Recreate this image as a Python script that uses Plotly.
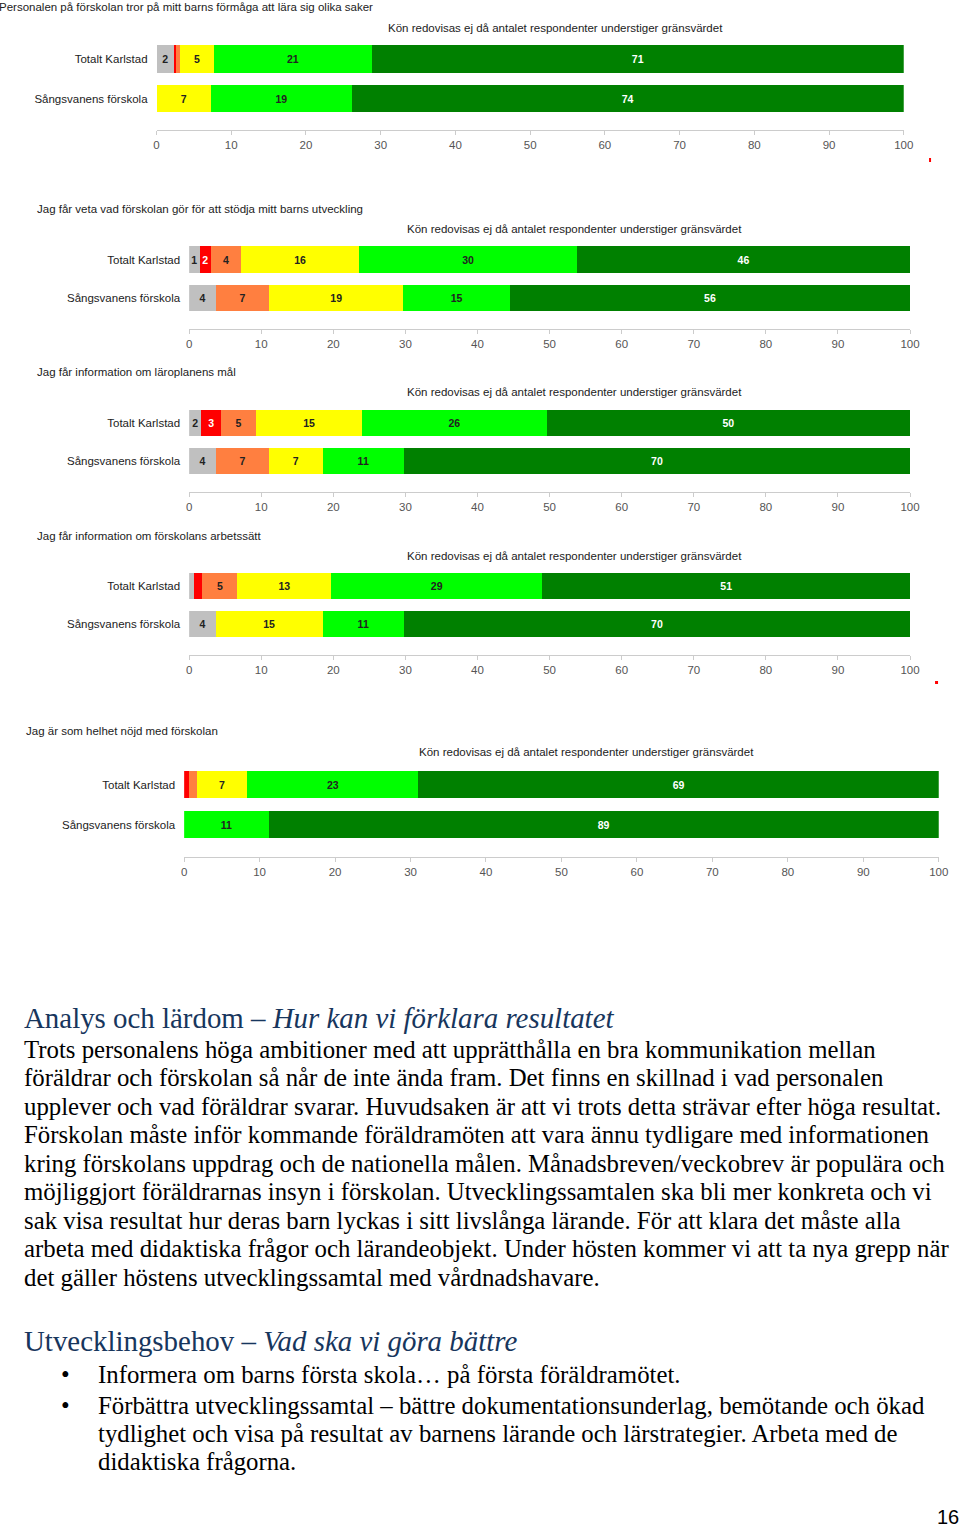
import plotly.graph_objects as go

W, H = 960, 1527

# ---------------- data ----------------
categories = ["Totalt Karlstad", "Sångsvanens förskola"]
series_names = ["Vet ej", "Instämmer inte alls", "Instämmer i liten grad",
                "Instämmer delvis", "Instämmer i stor grad", "Instämmer helt"]
series_colors = ["#c0c0c0", "#ff0000", "#ff7f40", "#ffff00", "#00ff00", "#008000"]
label_colors = ["#222222", "#ffffff", "#222222", "#222222", "#222222", "#ffffff"]

chart_titles = [
    "Personalen på förskolan tror på mitt barns förmåga att lära sig olika saker",
    "Jag får veta vad förskolan gör för att stödja mitt barns utveckling",
    "Jag får information om läroplanens mål",
    "Jag får information om förskolans arbetssätt",
    "Jag är som helhet nöjd med förskolan",
]
subtitle = "Kön redovisas ej då antalet respondenter understiger gränsvärdet"

# shares (%) per response: [vet ej, inte alls, liten grad, delvis, stor grad, helt]
q1_totalt = [2.3, 0.3, 0.5, 4.6, 21.1, 71.2]
q1_sangs = [0, 0, 0, 7.3, 18.8, 73.9]
q2_totalt = [1.45, 1.55, 4.2, 16.4, 30.2, 46.2]
q2_sangs = [3.7, 0, 7.4, 18.6, 14.8, 55.5]
q3_totalt = [1.7, 2.7, 4.9, 14.7, 25.6, 50.4]
q3_sangs = [3.7, 0, 7.4, 7.4, 11.3, 70.2]
q4_totalt = [0.7, 1.15, 4.85, 13.0, 29.3, 51.0]
q4_sangs = [3.7, 0, 0, 14.8, 11.3, 70.2]
q5_totalt = [0, 0.65, 1.0, 6.7, 22.7, 68.95]
q5_sangs = [0, 0, 0, 0, 11.2, 88.8]

chart_data = [(q1_totalt, q1_sangs), (q2_totalt, q2_sangs), (q3_totalt, q3_sangs),
              (q4_totalt, q4_sangs), (q5_totalt, q5_sangs)]

x_ticks = [0, 10, 20, 30, 40, 50, 60, 70, 80, 90, 100]

# ---------------- layout geometry (pixels) ----------------
# x0, x1 (pixel of 0 and 100), centre Totalt, centre Sångsvanens, axis line,
# title x, title y, subtitle centre x, subtitle y
geo = [
    (156.7, 903.7, 59.0, 98.5, 130.0, 0, 7, 556, 28),
    (189.3, 910.0, 259.5, 298.0, 329.0, 38, 209, 575, 229),
    (189.3, 910.0, 423.0, 461.0, 492.0, 38, 372, 575, 392),
    (189.3, 910.0, 586.0, 624.0, 655.0, 38, 536, 575, 556),
    (184.3, 938.7, 784.5, 824.5, 856.7, 27, 731, 587, 752),
]

PAD = 2  # annotation inner padding compensation
# horizontal calibration of the rendered page (observed offset / scale)
X_A, X_B = 3.2, 0.9862

def px(x):
    return ((x - X_A) / X_B) / W

def py(y):
    return 1 - y / H

fig = go.Figure()
annotations = []
layout_axes = {}
CHART_FONT = "Liberation Sans, Arial, sans-serif"
CF = 11.5

for i, ((tot, sang), g) in enumerate(zip(chart_data, geo)):
    x0, x1, cT, cS, axis_y, tx, ty, sx, sy = g
    n = i + 1
    xa = "x" if n == 1 else f"x{n}"
    ya = "y" if n == 1 else f"y{n}"
    step = cS - cT
    top_px = cT - step / 2
    y_top_val = 1 + 0.5
    y_bot_val = 0 - (axis_y - cS) / step
    for s in range(6):
        vals = [sang[s], tot[s]]
        texts = [str(int(v + 0.5)) if v >= 1.4 else "" for v in vals]
        fig.add_trace(go.Bar(
            x=vals, y=[categories[1], categories[0]], orientation="h",
            marker=dict(color=series_colors[s], line=dict(width=0)),
            width=0.69, name=series_names[s], showlegend=False,
            text=texts, textposition="inside", insidetextanchor="middle",
            textangle=0, constraintext="none",
            textfont=dict(size=10.5, color=label_colors[s], family=CHART_FONT, weight="bold"),
            xaxis=xa, yaxis=ya, hoverinfo="x+name",
        ))
    layout_axes["xaxis" if n == 1 else f"xaxis{n}"] = dict(
        domain=[max(px(x0), 0), min(px(x1), 1)], anchor=ya, range=[0, 100],
        tickvals=x_ticks, ticktext=[str(t) for t in x_ticks],
        showline=True, linecolor="#cccccc", linewidth=1,
        ticks="outside", ticklen=4, tickcolor="#cccccc",
        showgrid=False, zeroline=False,
        tickfont=dict(size=CF, color="#555555", family=CHART_FONT),
        fixedrange=True,
    )
    layout_axes["yaxis" if n == 1 else f"yaxis{n}"] = dict(
        domain=[py(axis_y), py(top_px)], anchor=xa,
        type="category", categoryorder="array",
        categoryarray=[categories[1], categories[0]],
        range=[y_bot_val, y_top_val],
        showline=False, showgrid=False, zeroline=False, ticks="",
        ticklabelstandoff=8,
        tickfont=dict(size=CF, color="#222222", family=CHART_FONT),
        fixedrange=True,
    )
    annotations.append(dict(
        text=chart_titles[i], x=px(tx - PAD - 1), y=py(ty), xref="paper", yref="paper",
        xanchor="left", yanchor="middle", showarrow=False,
        font=dict(size=CF, color="#222222", family=CHART_FONT)))
    annotations.append(dict(
        text=subtitle, x=px(sx), y=py(sy), xref="paper", yref="paper",
        xanchor="center", yanchor="middle", showarrow=False,
        font=dict(size=CF, color="#222222", family=CHART_FONT)))

# ---------------- text section ----------------
SERIF = "Liberation Serif, Times New Roman, serif"
HEAD = "#17365d"
HEAD_SIZE = 28.9
BODY_SIZE = 24.8
annotations.append(dict(
    text="Analys och lärdom – <i>Hur kan vi förklara resultatet</i>",
    x=px(24 - PAD), y=py(1018), xref="paper", yref="paper", xanchor="left", yanchor="middle",
    showarrow=False, font=dict(size=HEAD_SIZE, color=HEAD, family=SERIF)))

body_lines = [
    "Trots personalens höga ambitioner med att upprätthålla en bra kommunikation mellan",
    "föräldrar och förskolan så når de inte ända fram. Det finns en skillnad i vad personalen",
    "upplever och vad föräldrar svarar. Huvudsaken är att vi trots detta strävar efter höga resultat.",
    "Förskolan måste inför kommande föräldramöten att vara ännu tydligare med informationen",
    "kring förskolans uppdrag och de nationella målen. Månadsbreven/veckobrev är populära och",
    "möjliggjort föräldrarnas insyn i förskolan. Utvecklingssamtalen ska bli mer konkreta och vi",
    "sak visa resultat hur deras barn lyckas i sitt livslånga lärande. För att klara det måste alla",
    "arbeta med didaktiska frågor och lärandeobjekt. Under hösten kommer vi att ta nya grepp när",
    "det gäller höstens utvecklingssamtal med vårdnadshavare.",
]
body_y = [1049, 1077.5, 1106, 1134.5, 1163, 1191.5, 1220, 1248.5, 1277]
for line, yy in zip(body_lines, body_y):
    annotations.append(dict(
        text=line, x=px(24 - PAD), y=py(yy), xref="paper", yref="paper",
        xanchor="left", yanchor="middle", showarrow=False,
        font=dict(size=BODY_SIZE, color="#000000", family=SERIF)))

annotations.append(dict(
    text="Utvecklingsbehov – <i>Vad ska vi göra bättre</i>",
    x=px(24 - PAD), y=py(1341), xref="paper", yref="paper", xanchor="left", yanchor="middle",
    showarrow=False, font=dict(size=HEAD_SIZE, color=HEAD, family=SERIF)))

bullet_lines = [
    ("Informera om barns första skola… på första föräldramötet.", 1374, True),
    ("Förbättra utvecklingssamtal – bättre dokumentationsunderlag, bemötande och ökad", 1405, True),
    ("tydlighet och visa på resultat av barnens lärande och lärstrategier. Arbeta med de", 1433, False),
    ("didaktiska frågorna.", 1461, False),
]
for line, yy, has_bullet in bullet_lines:
    if has_bullet:
        annotations.append(dict(
            text="•", x=px(66), y=py(yy), xref="paper", yref="paper",
            xanchor="center", yanchor="middle", showarrow=False,
            font=dict(size=BODY_SIZE, color="#000000", family=SERIF)))
    annotations.append(dict(
        text=line, x=px(98 - PAD), y=py(yy), xref="paper", yref="paper",
        xanchor="left", yanchor="middle", showarrow=False,
        font=dict(size=BODY_SIZE, color="#000000", family=SERIF)))

annotations.append(dict(
    text="16", x=px(948), y=py(1517), xref="paper", yref="paper",
    xanchor="center", yanchor="middle", showarrow=False,
    font=dict(size=20, color="#000000", family="Liberation Sans, Arial, sans-serif")))

shapes = [
    dict(type="rect", xref="paper", yref="paper", x0=px(929), x1=px(931),
         y0=py(162), y1=py(158), fillcolor="#ff0000", line=dict(width=0)),
    dict(type="rect", xref="paper", yref="paper", x0=px(935), x1=px(938),
         y0=py(684), y1=py(681), fillcolor="#ff0000", line=dict(width=0)),
]

fig.update_layout(
    width=W, height=H, autosize=False, margin=dict(l=0, r=0, t=0, b=0),
    paper_bgcolor="#ffffff", plot_bgcolor="#ffffff",
    barmode="stack", bargap=0.3, showlegend=False,
    annotations=annotations, shapes=shapes,
    **layout_axes,
)

fig.write_html(
    "out.html",
    config={"responsive": False, "displayModeBar": False},
    post_script="document.body.style.margin='0';document.body.style.overflow='hidden';",
)
